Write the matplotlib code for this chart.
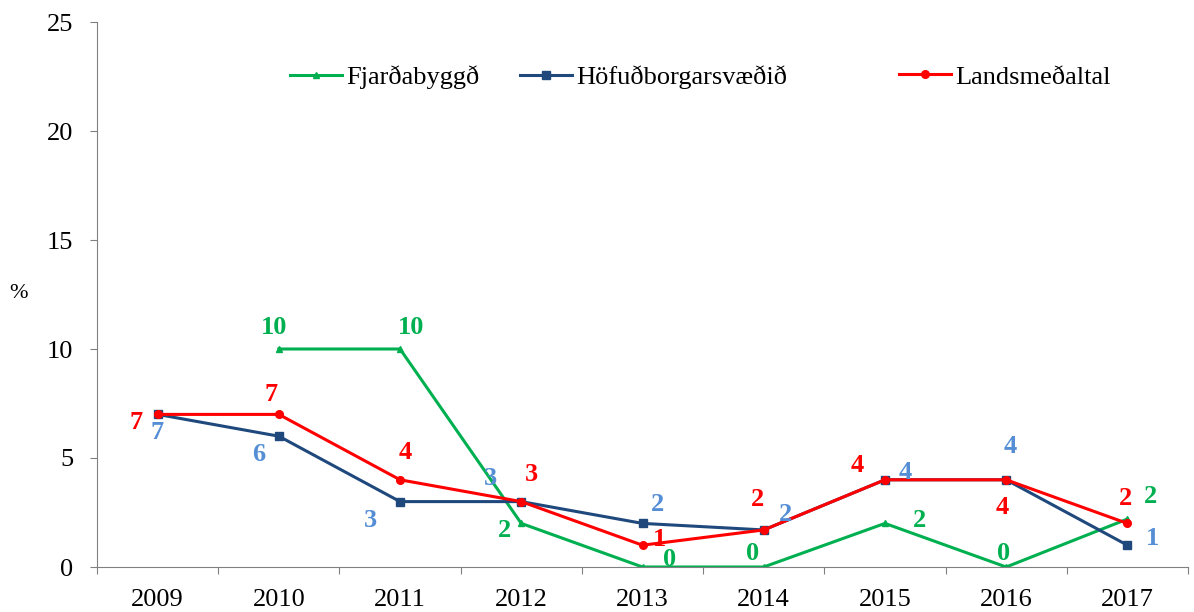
import matplotlib
matplotlib.use('Agg')
import matplotlib.pyplot as plt
from matplotlib.ticker import FixedLocator, NullFormatter

plt.rcParams['font.family'] = ['Liberation Serif', 'DejaVu Serif']

years = ['2009', '2010', '2011', '2012', '2013', '2014', '2015', '2016', '2017']
fjardabyggd = [None, 10, 10, 2, 0, 0, 2, 0, 2.2]
hofudborg = [7, 6, 3, 3, 2, 1.7, 4, 4, 1]
landsmedaltal = [7, 7, 4, 3, 1, 1.7, 4, 4, 2]

fjar_labels = ['', '10', '10', '2', '0', '0', '2', '0', '2']
hofu_labels = ['7', '6', '3', '3', '2', '2', '4', '4', '1']
land_labels = ['7', '7', '4', '3', '1', '2', '4', '4', '2']

# label offsets in pixels (dx, dy)
fjar_off = [None, (-5, 21), (11, 21), (-17, -7), (27, 7), (-11, 13), (35, 3), (-3, 13), (23, 23)]
hofu_off = [(-1, -18), (-20, -18), (-30, -19), (-31, 23), (15, 19), (22, 15), (20, 7), (4, 33), (25, 7)]
land_off = [(-22, -8), (-8, 20), (5, 27), (10, 27), (17, 6), (-6, 30), (-28, 14), (-4, -28), (-2, 25)]

green = '#00B050'
navy = '#1F497D'
red = '#FF0000'
lblue = '#558ED5'

fig = plt.figure(figsize=(11.94, 6.12), dpi=100)
ax = fig.add_axes([97 / 1194, 45 / 612, 1091 / 1194, 545 / 612])

x = list(range(len(years)))
xf = [i for i, v in zip(x, fjardabyggd) if v is not None]
yf = [v for v in fjardabyggd if v is not None]

lf, = ax.plot(xf, yf, color=green, lw=2.2, marker='^', ms=5, label='Fjarðabyggð')
lh, = ax.plot(x, hofudborg, color=navy, lw=2.2, marker='s', ms=5.5, label='Höfuðborgarsvæðið')
ll, = ax.plot(x, landsmedaltal, color=red, lw=2.2, marker='o', ms=5.5, label='Landsmeðaltal')

for vals, labs, offs, col in [(fjardabyggd, fjar_labels, fjar_off, green),
                              (hofudborg, hofu_labels, hofu_off, lblue),
                              (landsmedaltal, land_labels, land_off, red)]:
    for i, (v, t, o) in enumerate(zip(vals, labs, offs)):
        if v is None:
            continue
        ax.annotate(t, (i, v), xytext=o, textcoords='offset pixels',
                    ha='center', va='center', color=col, fontsize=19,
                    fontweight='bold')

ax.set_xlim(-0.5, 8.5)
ax.set_ylim(0, 25)
ax.set_yticks([0, 5, 10, 15, 20, 25])
ax.set_xticks(x)
ax.set_xticklabels(years)
ax.xaxis.set_minor_locator(FixedLocator([i - 0.5 for i in range(len(years) + 1)]))
ax.xaxis.set_minor_formatter(NullFormatter())
ax.tick_params(axis='x', which='major', length=0, pad=16, labelsize=19)
ax.tick_params(axis='x', which='minor', length=5, direction='out', color='#808080', width=0.8)
ax.tick_params(axis='y', length=5, direction='out', color='#808080', width=0.8, pad=12, labelsize=19)

for s in ['top', 'right']:
    ax.spines[s].set_visible(False)
for s in ['left', 'bottom']:
    ax.spines[s].set_color('#808080')
    ax.spines[s].set_linewidth(0.8)

ax.set_ylabel('%', rotation=0, fontsize=16, va='center')
ax.yaxis.set_label_coords(-79 / 1091, (567 - 293) / 545)

for h, xp in [(lf, 290), (lh, 520), (ll, 899)]:
    fig.legend(handles=[h], loc='center left', bbox_to_anchor=(xp / 1194, 1 - 77 / 612),
               frameon=False, fontsize=19, handlelength=1.97, handletextpad=0.15,
               borderpad=0, borderaxespad=0)

fig.savefig('out.png', dpi=100)
